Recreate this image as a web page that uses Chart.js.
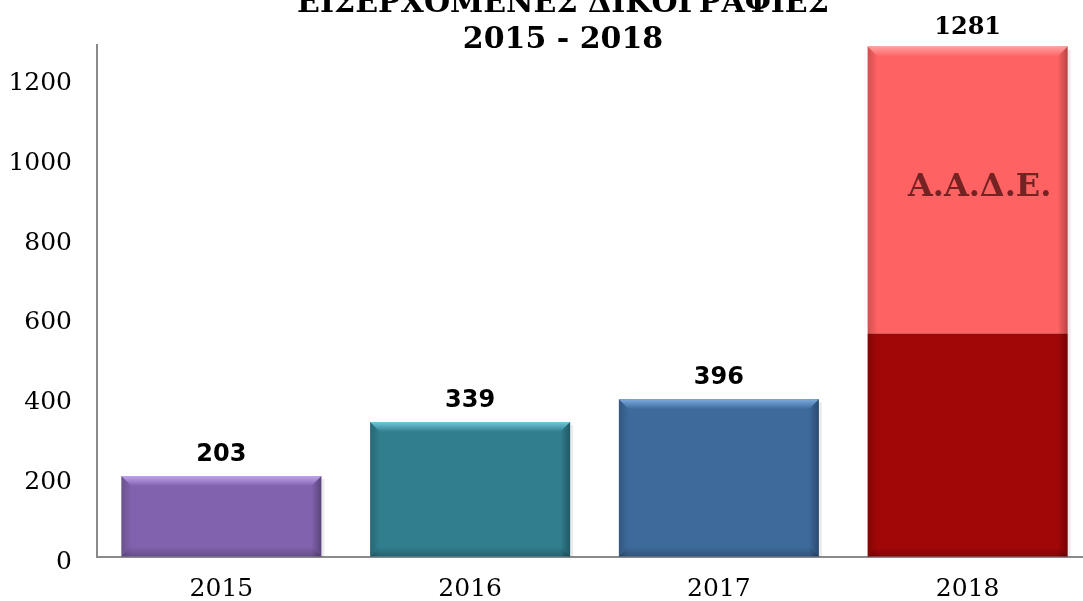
<!DOCTYPE html>
<html>
<head>
<meta charset="utf-8">
<script src="https://cdn.jsdelivr.net/npm/chart.js@4"></script>
<style>
  html, body { margin: 0; padding: 0; background: #fff; overflow: hidden; }
  #wrap { width: 1100px; height: 601px; }
</style>
</head>
<body>
<div id="wrap"><canvas id="casesChart" width="1100" height="601"></canvas></div>
<script>
// Data
const years = ['2015', '2016', '2017', '2018'];
const baseCases = [203, 339, 396, 561];
const aadeCases = [0, 0, 0, 720];
const yTicks = [0, 200, 400, 600, 800, 1000, 1200];
const titleLines = ['ΕΙΣΕΡΧΟΜΕΝΕΣ ΔΙΚΟΓΡΑΦΙΕΣ', '2015 - 2018'];
const aadeLabel = 'Α.Α.Δ.Ε.';

const baseColors = ['#8162ae', '#317e8f', '#3d6a9b', '#a20707'];
const topHighlights = ['#bfa2ee', '#70c8dc', '#7eaae0', '#ffa0a0'];

// title drawn a bit above the canvas edge, like the original
const titlePlugin = {
    id: 'topTitle',
    afterDraw: chart => {
        const ctx = chart.ctx;
        ctx.save();
        ctx.fillStyle = '#000';
        ctx.font = 'bold 30px "DejaVu Serif"';
        ctx.textAlign = 'center';
        ctx.textBaseline = 'alphabetic';
        ctx.fillText(titleLines[0], 563, 12);
        ctx.fillText(titleLines[1], 563, 48);
        ctx.restore();
    }
};

// bevel look + value labels
const barDecor = {
    id: 'barDecor',
    afterDatasetsDraw: chart => {
        const ctx = chart.ctx;
        const base = chart.getDatasetMeta(0).data;
        const upper = chart.getDatasetMeta(1).data;
        const b = 10;

        base.forEach((el, i) => {
            const hasTop = aadeCases[i] > 0;
            const topEl = hasTop ? upper[i] : el;
            const left = el.x - el.width / 2;
            const right = el.x + el.width / 2;
            const top = topEl.y;
            const bottom = el.base;

            ctx.save();
            // side shading
            let g = ctx.createLinearGradient(left, 0, left + b, 0);
            g.addColorStop(0, 'rgba(0,0,0,0.18)');
            g.addColorStop(1, 'rgba(0,0,0,0)');
            ctx.fillStyle = g;
            ctx.fillRect(left, top, b, bottom - top);
            g = ctx.createLinearGradient(right - b, 0, right, 0);
            g.addColorStop(0, 'rgba(0,0,0,0)');
            g.addColorStop(1, 'rgba(0,0,0,0.3)');
            ctx.fillStyle = g;
            ctx.fillRect(right - b, top, b, bottom - top);
            g = ctx.createLinearGradient(0, bottom - b, 0, bottom);
            g.addColorStop(0, 'rgba(0,0,0,0)');
            g.addColorStop(1, 'rgba(0,0,0,0.2)');
            ctx.fillStyle = g;
            ctx.beginPath();
            ctx.moveTo(left + b, bottom - b);
            ctx.lineTo(right - b, bottom - b);
            ctx.lineTo(right, bottom);
            ctx.lineTo(left, bottom);
            ctx.closePath();
            ctx.fill();

            // top highlight
            g = ctx.createLinearGradient(0, top, 0, top + b);
            g.addColorStop(0, topHighlights[i]);
            g.addColorStop(1, hasTop ? '#ff6262' : baseColors[i]);
            ctx.fillStyle = g;
            ctx.beginPath();
            ctx.moveTo(left, top);
            ctx.lineTo(right, top);
            ctx.lineTo(right - b, top + b);
            ctx.lineTo(left + b, top + b);
            ctx.closePath();
            ctx.fill();

            // right shadow
            ctx.fillStyle = 'rgba(0,0,0,0.08)';
            ctx.fillRect(right, top + 3, 3, bottom - top - 3);

            // value label
            const total = baseCases[i] + aadeCases[i];
            ctx.fillStyle = '#000';
            ctx.textAlign = 'center';
            ctx.textBaseline = 'alphabetic';
            ctx.font = hasTop ? 'bold 24px "DejaVu Serif"' : 'bold 24px "DejaVu Sans"';
            ctx.fillText(String(total), el.x, top - (hasTop ? 13 : 15));

            if (hasTop) {
                ctx.fillStyle = '#742222';
                ctx.font = 'bold 32px "DejaVu Serif"';
                ctx.textBaseline = 'middle';
                ctx.fillText(aadeLabel, el.x + 12, (upper[i].y + upper[i].base) / 2 - 2);
            }
            ctx.restore();
        });
    }
};

new Chart(document.getElementById('casesChart'), {
    type: 'bar',
    data: {
        labels: years,
        datasets: [{
            label: 'Δικογραφίες',
            data: baseCases,
            backgroundColor: baseColors,
            borderWidth: 0,
            barPercentage: 0.804,
            categoryPercentage: 1
        }, {
            label: aadeLabel,
            data: aadeCases,
            backgroundColor: '#ff6262',
            borderWidth: 0,
            barPercentage: 0.804,
            categoryPercentage: 1
        }]
    },
    options: {
        responsive: false,
        animation: false,
        devicePixelRatio: 1,
        layout: {
            padding: { left: 0, right: 8, top: 45, bottom: 0 }
        },
        scales: {
            x: {
                stacked: true,
                grid: { drawOnChartArea: false, drawTicks: false },
                border: { display: true, color: '#8a8a8a', width: 2 },
                ticks: {
                    color: '#000',
                    padding: 17,
                    font: { family: '"DejaVu Serif"', size: 25 }
                },
                afterFit: scale => { scale.height = 44; }
            },
            y: {
                stacked: true,
                min: 0,
                max: 1285,
                grid: { drawOnChartArea: false, drawTicks: false },
                border: { display: true, color: '#8a8a8a', width: 2 },
                ticks: {
                    color: '#000',
                    padding: 25,
                    labelOffset: 5,
                    font: { family: '"DejaVu Serif"', size: 25 },
                    callback: value => String(value)
                },
                afterBuildTicks: scale => {
                    scale.ticks = yTicks.map(v => ({ value: v }));
                },
                afterFit: scale => { scale.width = 97; }
            }
        },
        plugins: {
            legend: { display: false },
            tooltip: { enabled: false },
            title: { display: false }
        }
    },
    plugins: [titlePlugin, barDecor]
});
</script>
</body>
</html>
